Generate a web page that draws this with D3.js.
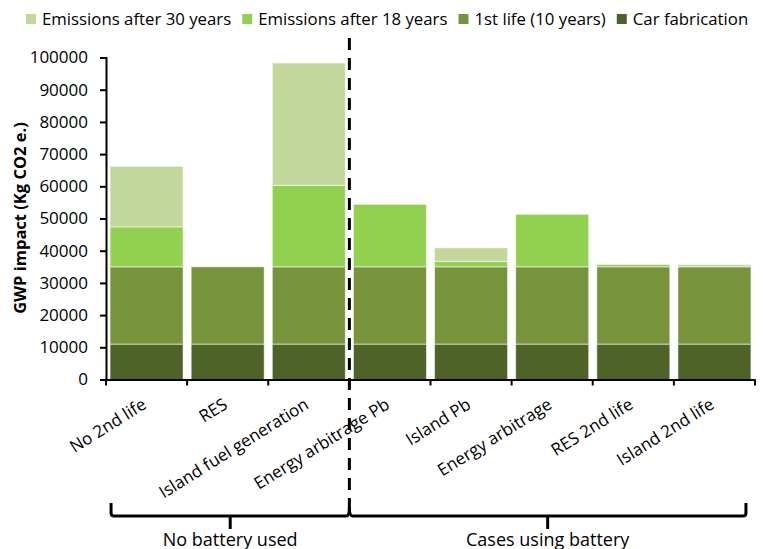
<!DOCTYPE html>
<html><head><meta charset="utf-8">
<script src="https://cdn.jsdelivr.net/npm/d3@7"></script>
<style>body{margin:0;background:#fff}svg{display:block}text{font-family:"Open Sans",sans-serif;fill:#000}</style>
</head><body>
<script>
const categories = ["No 2nd life","RES","Island fuel generation","Energy arbitrage Pb","Island Pb","Energy arbitrage","RES 2nd life","Island 2nd life"];
const carFabrication = [11000,11000,11000,11000,11000,11000,11000,11000];
const firstLife      = [24000,24000,24000,24000,24000,24000,24000,24000];
const after18        = [12400,0,25300,19400,1700,16300,700,0];
const after30        = [18800,0,38000,0,4200,0,0,700];
const seriesNames = ["Car fabrication","1st life (10 years)","Emissions after 18 years","Emissions after 30 years"];
const legendOrder = ["Emissions after 30 years","Emissions after 18 years","1st life (10 years)","Car fabrication"];
const yTicks = [0,10000,20000,30000,40000,50000,60000,70000,80000,90000,100000];
const groups = [{label:"No battery used", from:0, to:3},{label:"Cases using battery", from:3, to:8}];
const yTitle = "GWP impact (Kg CO2 e.)";

const colors = {"Car fabrication":"#4f6228","1st life (10 years)":"#77933c","Emissions after 18 years":"#92d050","Emissions after 30 years":"#c4d79b"};

const W=763,H=549;
const svg=d3.select("body").append("svg").attr("width",W).attr("height",H);

const rows=categories.map((c,i)=>({cat:c,"Car fabrication":carFabrication[i],"1st life (10 years)":firstLife[i],"Emissions after 18 years":after18[i],"Emissions after 30 years":after30[i]}));
const stack=d3.stack().keys(seriesNames)(rows);

const x=d3.scaleBand().domain(categories).range([106,755]).paddingInner(0.1).paddingOuter(0.05);
const y=d3.scaleLinear().domain([0,100000]).range([379.5,57.5]);

// bars
svg.append("g").selectAll("g").data(stack).join("g").attr("fill",d=>colors[d.key])
 .selectAll("rect").data(d=>d.filter(s=>s[1]-s[0]>0)).join("rect")
 .attr("x",d=>x(d.data.cat)).attr("width",x.bandwidth())
 .attr("y",d=>y(d[1])).attr("height",d=>y(d[0])-y(d[1]))
 .attr("stroke","rgba(255,255,255,0.55)").attr("stroke-width",1);

// y axis
const ya=svg.append("g").attr("transform","translate(106,0)")
 .call(d3.axisLeft(y).tickValues(yTicks).tickFormat(d3.format("d")).tickSize(6).tickPadding(12));
ya.select(".domain").attr("stroke","#000").attr("stroke-width",2);
ya.selectAll(".tick line").attr("stroke","#000").attr("stroke-width",2);
ya.selectAll("text").attr("font-size",17).attr("font-family","Open Sans").attr("fill","#000");

// x axis
const xa=svg.append("g").attr("transform","translate(0,379.5)")
 .call(d3.axisBottom(x).tickValues([]).tickSizeOuter(0));
xa.select(".domain").attr("stroke","#000").attr("stroke-width",2);
const boundaries=d3.range(categories.length+1).map(i=>106+i*x.step());
xa.selectAll("line.b").data(boundaries).join("line").attr("class","b")
 .attr("x1",d=>d).attr("x2",d=>d).attr("y1",0).attr("y2",6).attr("stroke","#000").attr("stroke-width",2);

// x labels
svg.append("g").selectAll("text").data(categories).join("text")
 .attr("transform",d=>`translate(${x(d)+x.bandwidth()/2+1},407.5) rotate(-32)`)
 .attr("text-anchor","end").attr("font-size",17).text(d=>d);

// y title
svg.append("text").attr("transform","translate(26,218) rotate(-90)").attr("text-anchor","middle")
 .attr("font-size",16.5).attr("font-weight","bold").text(yTitle);

// divider dashed line
const divX=106+3*x.step();
svg.append("line").attr("x1",divX).attr("x2",divX).attr("y1",38).attr("y2",507)
 .attr("stroke","#000").attr("stroke-width",3).attr("stroke-dasharray","12,8");

// braces
const bg=svg.append("g").attr("fill","none").attr("stroke","#000").attr("stroke-width",3);
groups.forEach((g,gi)=>{
  const x0 = gi===0 ? x(categories[g.from])+1 : divX;
  const x1 = gi===0 ? divX : x(categories[g.to-1])+x.bandwidth()-5;
  let p;
  if(gi===0){ p=`M${x0},503 L${x0},513 Q${x0},516 ${x0+3},516 L${x1-3},516 Q${x1},516 ${x1},507`; }
  else { p=`M${x0},507 Q${x0},516 ${x0+3},516 L${x1-3},516 Q${x1},516 ${x1},513 L${x1},503`; }
  bg.append("path").attr("d",p);
  const mid=(x0+x1)/2;
  bg.append("line").attr("x1",mid).attr("x2",mid).attr("y1",516).attr("y2",529);
  svg.append("text").attr("x",mid).attr("y",545.5).attr("text-anchor","middle").attr("font-size",18).text(g.label);
});

// legend
const lg=svg.append("g");
let lx=26;
legendOrder.forEach(n=>{
  lg.append("rect").attr("x",lx).attr("y",14).attr("width",10).attr("height",10).attr("fill",colors[n]);
  const t=lg.append("text").attr("x",lx+16).attr("y",25).attr("font-size",16.8).text(n);
  lx=lx+16+t.node().getComputedTextLength()+11;
});
</script>
</body></html>
